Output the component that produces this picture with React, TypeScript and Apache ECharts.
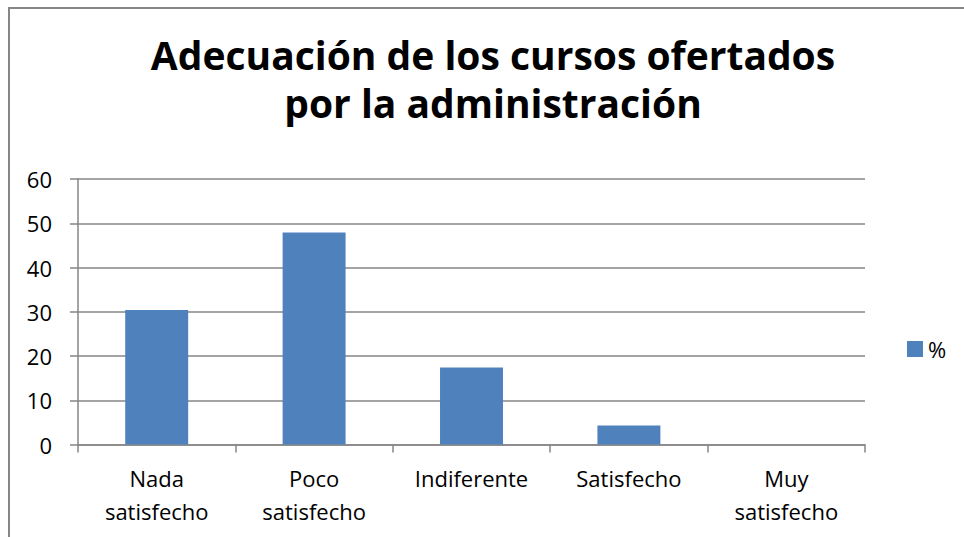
import React, { useEffect, useRef } from "react";
import * as echarts from "echarts";

const titleLines = ["Adecuación de los cursos ofertados", "por la administración"];
const categories = ["Nada\nsatisfecho", "Poco\nsatisfecho", "Indiferente", "Satisfecho", "Muy\nsatisfecho"];
const seriesName = "%";
const values = [30.4, 47.9, 17.4, 4.3, 0];
const yMin = 0;
const yMax = 60;
const yInterval = 10;

const FONT = "'Open Sans', 'Liberation Sans', sans-serif";
const GRAY = "#868686";

export default function App() {
  const ref = useRef<HTMLDivElement>(null);
  useEffect(() => {
    if (!ref.current) return;
    const chart = echarts.init(ref.current, undefined, { renderer: "svg" });
    const titleStyle = {
      fontFamily: FONT,
      fontWeight: "bold",
      fontSize: 39,
      lineHeight: 46,
      color: "#000000",
    };
    chart.setOption({
      animation: false,
      backgroundColor: "#ffffff",
      title: titleLines.map((t, i) => ({
        text: t,
        left: 493,
        textAlign: "center",
        top: 31 + i * 48,
        padding: 0,
        textStyle: titleStyle,
      })),
      legend: {
        data: [seriesName],
        left: 907,
        top: 338,
        padding: 0,
        orient: "vertical",
        icon: "rect",
        itemWidth: 16,
        itemHeight: 16,
        itemGap: 8,
        textStyle: { fontFamily: FONT, fontSize: 22, color: "#000000" },
      },
      grid: { left: 78, right: 99, top: 179, bottom: 92.5, containLabel: false },
      xAxis: {
        type: "category",
        data: categories,
        axisLine: { lineStyle: { color: GRAY, width: 1.5 } },
        axisTick: { show: true, length: 8, alignWithLabel: false, lineStyle: { color: GRAY, width: 1.5 } },
        axisLabel: {
          fontFamily: FONT,
          fontSize: 22,
          lineHeight: 33,
          color: "#000000",
          margin: 17,
          interval: 0,
        },
      },
      yAxis: {
        type: "value",
        min: yMin,
        max: yMax,
        interval: yInterval,
        axisLine: { show: true, lineStyle: { color: GRAY, width: 1.5 } },
        axisTick: { show: true, length: 8, lineStyle: { color: GRAY, width: 1.5 } },
        splitLine: { show: true, lineStyle: { color: GRAY, width: 1.5 } },
        axisLabel: { fontFamily: FONT, fontSize: 22, color: "#000000", margin: 26 },
      },
      series: [
        {
          name: seriesName,
          type: "bar",
          data: values,
          barCategoryGap: "60%",
          itemStyle: { color: "#4F81BD" },
        },
      ],
      graphic: [
        {
          type: "rect",
          silent: true,
          shape: { x: 9, y: 8, width: 970, height: 560 },
          style: { fill: "none", stroke: GRAY, lineWidth: 2 },
        },
      ],
    });
    return () => chart.dispose();
  }, []);
  return (
    <div
      ref={ref}
      style={{ position: "absolute", left: 0, top: 0, width: 964, height: 537 }}
    />
  );
}
